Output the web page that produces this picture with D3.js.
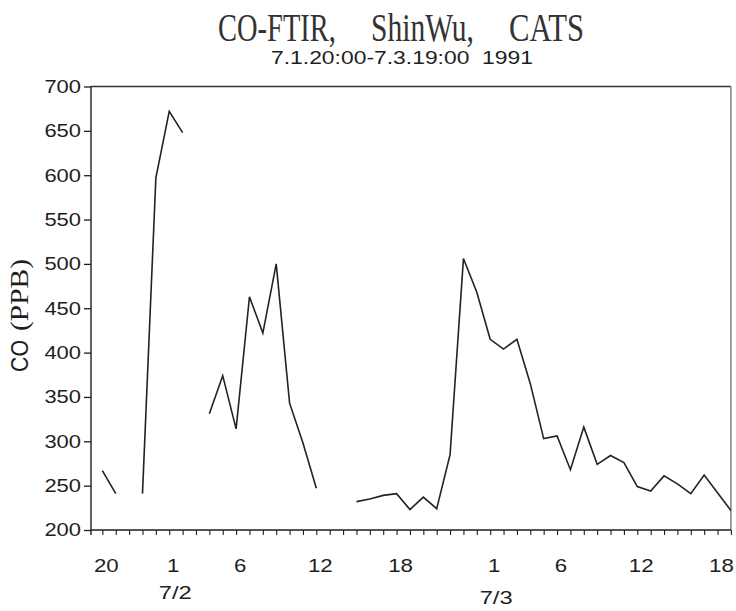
<!DOCTYPE html>
<html>
<head>
<meta charset="utf-8">
<script src="https://cdn.jsdelivr.net/npm/d3@7"></script>
<style>
  html, body { margin: 0; padding: 0; background: #fff; }
  svg { display: block; }
</style>
</head>
<body>
<div id="chart"></div>
<script>
// Hourly CO readings (ppb) from 7/1 20:00 to 7/3 19:00; null = no reading
const hoursFromStart = d3.range(0, 48);
const coPPB = [
  267, 241, null, 241, 597, 672, 648, null,          // 7/1 20:00 - 7/2 03:00
  331, 374, 314, 463, 422, 500, 343, 298, 247,       // 7/2 04:00 - 12:00
  null, null,                                        // 13:00 - 14:00
  232, 235, 239, 241, 223, 237, 224, 285, 506,       // 15:00 - 23:00
  468, 415, 404, 415, 365, 303, 306, 268, 316, 274,  // 7/3 00:00 - 09:00
  284, 276, 249, 244, 261, 252, 241, 262, 242, 222   // 10:00 - 19:00
];

// Hour-of-day labels along the time axis
const labelHours = [0, 5, 10, 16, 22, 29, 34, 40, 46];
const labelText  = ["20", "1", "6", "12", "18", "1", "6", "12", "18"];
// Date labels under the first hour of each new day
const dateHours = [5, 29];
const dateText  = ["7/2", "7/3"];
const dateDrop  = [0, 5];

const yTicks = d3.range(200, 701, 50);

const W = 736, H = 611;
const svg = d3.select("#chart").append("svg")
  .attr("width", W).attr("height", H);

const x = d3.scaleLinear().domain([-0.85, 47]).range([91, 730.9]);
const y = d3.scaleLinear().domain([200, 700]).range([530, 86.5]);

const ink = "#1e1e1e";
const sans = "'Liberation Sans', Arial, Helvetica, sans-serif";
const serif = "'Liberation Serif', 'Times New Roman', serif";

// Frame: top and right edges
svg.append("line")
  .attr("x1", x.range()[0]).attr("x2", x.range()[1])
  .attr("y1", y(700)).attr("y2", y(700))
  .attr("stroke", "#333").attr("stroke-width", 1.3);
svg.append("line")
  .attr("x1", x.range()[1]).attr("x2", x.range()[1])
  .attr("y1", y(700)).attr("y2", y(200))
  .attr("stroke", "#555").attr("stroke-width", 1.1);

// Y axis
const yAxis = svg.append("g")
  .attr("transform", `translate(${x.range()[0]},0)`)
  .call(d3.axisLeft(y).tickValues(yTicks).tickSize(7).tickPadding(3).tickSizeOuter(0));
yAxis.select(".domain").remove();
yAxis.append("line")
  .attr("x1", 0).attr("x2", 0)
  .attr("y1", y(700)).attr("y2", y(200) + 5)
  .attr("stroke", ink).attr("stroke-width", 1.4);
yAxis.selectAll(".tick line").attr("stroke", ink).attr("stroke-width", 1.3);
yAxis.selectAll(".tick text")
  .attr("fill", ink)
  .style("font-family", sans).style("font-size", "18.5px")
  .attr("textLength", d => String(d).length * 12.2)
  .attr("lengthAdjust", "spacingAndGlyphs");

// X axis: hourly ticks
const xAxis = svg.append("g")
  .attr("transform", `translate(0,${y(200)})`)
  .call(d3.axisBottom(x).tickValues(hoursFromStart).tickSize(5).tickFormat("").tickSizeOuter(0));
xAxis.select(".domain").remove();
xAxis.append("line")
  .attr("x1", x.range()[0]).attr("x2", x.range()[1])
  .attr("y1", 0).attr("y2", 0)
  .attr("stroke", ink).attr("stroke-width", 1.4);
xAxis.selectAll(".tick line").attr("stroke", ink).attr("stroke-width", 1.1);

// Hour labels
svg.append("g").selectAll("text")
  .data(labelHours)
  .join("text")
  .attr("x", d => x(d) + 4)
  .attr("y", 571.5)
  .attr("text-anchor", "middle")
  .attr("fill", ink)
  .style("font-family", sans).style("font-size", "18.5px")
  .attr("textLength", (d, i) => labelText[i].length * 12.4)
  .attr("lengthAdjust", "spacingAndGlyphs")
  .text((d, i) => labelText[i]);

// Date labels
svg.append("g").selectAll("text")
  .data(dateHours)
  .join("text")
  .attr("x", d => x(d) + 6)
  .attr("y", (d, i) => 599 + dateDrop[i])
  .attr("text-anchor", "middle")
  .attr("fill", ink)
  .style("font-family", sans).style("font-size", "18.5px")
  .attr("textLength", 33)
  .attr("lengthAdjust", "spacingAndGlyphs")
  .text((d, i) => dateText[i]);

// Y axis title
svg.append("text")
  .attr("transform", "translate(28,356) rotate(-90)")
  .attr("text-anchor", "middle")
  .attr("fill", ink)
  .style("font-family", sans).style("font-size", "24px")
  .attr("textLength", 32).attr("lengthAdjust", "spacingAndGlyphs")
  .text("CO");
svg.append("text")
  .attr("transform", "translate(28,295) rotate(-90)")
  .attr("text-anchor", "middle")
  .attr("fill", ink)
  .style("font-family", serif).style("font-size", "26px")
  .attr("textLength", 72).attr("lengthAdjust", "spacingAndGlyphs")
  .text("(PPB)");

// Title, drawn word by word
const titleWords = ["CO-FTIR,", "ShinWu,", "CATS"];
const titleStart = [218, 371, 509];
const titleWidth = [118, 103, 75];
svg.append("g").selectAll("text")
  .data(titleWords)
  .join("text")
  .attr("x", (d, i) => titleStart[i])
  .attr("y", 41)
  .attr("fill", "#333")
  .style("font-family", serif).style("font-size", "39px")
  .attr("textLength", (d, i) => titleWidth[i])
  .attr("lengthAdjust", "spacingAndGlyphs")
  .text(d => d);

svg.append("text")
  .attr("x", 271).attr("y", 63.5)
  .attr("fill", ink)
  .style("font-family", sans).style("font-size", "18.5px")
  .style("white-space", "pre")
  .attr("textLength", 262).attr("lengthAdjust", "spacingAndGlyphs")
  .text("7.1.20:00-7.3.19:00  1991");

// CO series, broken where readings are missing
const line = d3.line()
  .defined(d => d.v != null)
  .x(d => x(d.h))
  .y(d => y(d.v));

svg.append("path")
  .datum(hoursFromStart.map((h, i) => ({ h, v: coPPB[i] })))
  .attr("fill", "none")
  .attr("stroke", "#222")
  .attr("stroke-width", 1.6)
  .attr("stroke-linejoin", "miter")
  .attr("d", line);
</script>
</body>
</html>
